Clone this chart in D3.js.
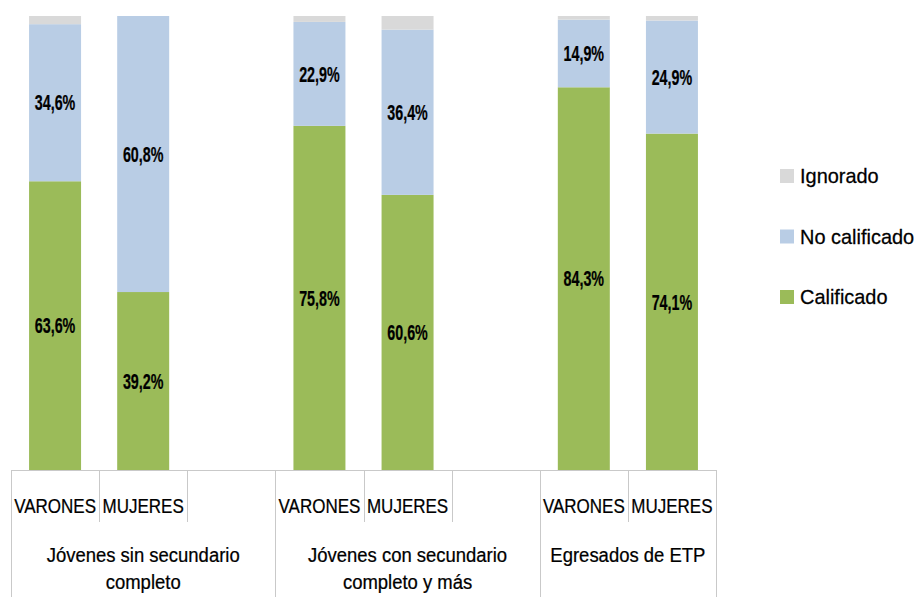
<!DOCTYPE html>
<html>
<head>
<meta charset="utf-8">
<script src="https://cdn.jsdelivr.net/npm/d3@7"></script>
<style>
  body { margin: 0; background: #fff; }
  svg { display: block; font-family: "Liberation Sans", Arial, sans-serif; }
</style>
</head>
<body>
<svg id="chart" width="919" height="597"></svg>
<script>
// categories (8 slots: empty slot after each of the first two groups)
const groups = [
  ["Jóvenes sin secundario", "completo"],
  ["Jóvenes con secundario", "completo y más"],
  ["Egresados de ETP"]
];
const slotLabels = ["VARONES", "MUJERES", "", "VARONES", "MUJERES", "", "VARONES", "MUJERES"];
const slotGroup = [0, 0, 0, 1, 1, 1, 2, 2];

// series values (%)
const calificado   = [63.6, 39.2, null, 75.8, 60.6, null, 84.3, 74.1];
const noCalificado = [34.6, 60.8, null, 22.9, 36.4, null, 14.9, 24.9];
const ignorado     = [1.8, 0, null, 1.3, 3.0, null, 0.8, 1.0];

const seriesNames = ["Calificado", "No calificado", "Ignorado"];
const seriesColors = ["#9bbb59", "#b9cde5", "#d9d9d9"];

const svg = d3.select("#chart");
const AXIS_COLOR = "#c9c9c9";
const BASE_Y = 470;
const TOP_Y = 16;

const slots = d3.range(slotLabels.length);
const x = d3.scaleBand().domain(slots).range([11, 716]).paddingInner(0).paddingOuter(0);
const y = d3.scaleLinear().domain([0, 100]).range([BASE_Y, TOP_Y]);
const barW = x.bandwidth() * 0.59;

// narrow text: no condensed font installed, so squeeze horizontally
function squeezed(sel, px, py, sx) {
  return sel.append("text")
    .attr("transform", `translate(${px},${py}) scale(${sx},1)`)
    .attr("fill", "#000")
    .attr("stroke", "#000")
    .attr("stroke-width", 0.25);
}

// build stacked table
const table = slots.filter(i => calificado[i] !== null).map(i => ({
  slot: i,
  "Calificado": calificado[i],
  "No calificado": noCalificado[i],
  "Ignorado": ignorado[i]
}));
const stacked = d3.stack().keys(seriesNames)(table);

const bars = svg.append("g");
stacked.forEach((layer, li) => {
  bars.selectAll(null)
    .data(layer)
    .join("rect")
    .attr("x", d => x(d.data.slot) + (x.bandwidth() - barW) / 2)
    .attr("y", d => y(d[1]))
    .attr("width", barW)
    .attr("height", d => y(d[0]) - y(d[1]))
    .attr("fill", seriesColors[li]);
});

// data labels (Calificado and No calificado)
stacked.slice(0, 2).forEach(layer => {
  layer.forEach(d => {
    squeezed(bars, x(d.data.slot) + x.bandwidth() / 2, (y(d[0]) + y(d[1])) / 2, 0.65)
      .attr("text-anchor", "middle")
      .attr("dominant-baseline", "central")
      .attr("font-size", "22px")
      .attr("font-weight", "bold")
      .text((d[1] - d[0]).toFixed(1).replace(".", ",") + "%");
  });
});

// category axis
const axis = svg.append("g");
axis.append("line")
  .attr("x1", x.range()[0]).attr("x2", x.range()[1])
  .attr("y1", BASE_Y + 0.5).attr("y2", BASE_Y + 0.5)
  .attr("stroke", AXIS_COLOR);

// boundaries between slots
const bounds = d3.range(slotLabels.length + 1);
axis.selectAll(null)
  .data(bounds)
  .join("line")
  .attr("x1", i => Math.round(i < slotLabels.length ? x(i) : x.range()[1]) + 0.5)
  .attr("x2", i => Math.round(i < slotLabels.length ? x(i) : x.range()[1]) + 0.5)
  .attr("y1", BASE_Y)
  .attr("y2", i => {
    const isGroupEdge = i === 0 || i === slotLabels.length || slotGroup[i] !== slotGroup[i - 1];
    return isGroupEdge ? 597 : 522;
  })
  .attr("stroke", AXIS_COLOR);

slots.filter(i => slotLabels[i]).forEach(i => {
  squeezed(axis, x(i) + x.bandwidth() / 2, 513, 0.81)
    .attr("text-anchor", "middle")
    .attr("font-size", "21px")
    .text(slotLabels[i]);
});

// group labels centred over their slots
groups.forEach((lines, g) => {
  const members = slots.filter(i => slotGroup[i] === g);
  const x0 = x(members[0]);
  const x1 = x(members[members.length - 1]) + x.bandwidth();
  lines.forEach((line, k) => {
    squeezed(axis, (x0 + x1) / 2, 562 + k * 27, 0.88)
      .attr("text-anchor", "middle")
      .attr("font-size", "21px")
      .text(line);
  });
});

// legend (reversed order, Ignorado on top)
const legend = svg.append("g").attr("transform", "translate(780,0)");
const legendOrder = [2, 1, 0];
legendOrder.forEach((si, k) => {
  const cy = 176 + k * 60.5;
  legend.append("rect")
    .attr("x", 0).attr("y", cy - 7)
    .attr("width", 14).attr("height", 14)
    .attr("fill", seriesColors[si]);
  squeezed(legend, 20, cy + 7, 0.95)
    .attr("font-size", "21px")
    .text(seriesNames[si]);
});
</script>
</body>
</html>
